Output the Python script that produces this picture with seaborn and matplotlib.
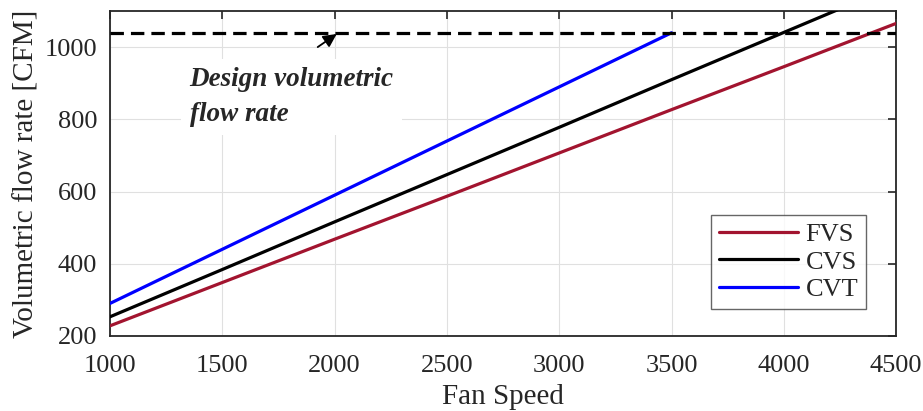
import numpy as np
import pandas as pd
import seaborn as sns
import matplotlib.pyplot as plt

speed = [1000, 1500, 2000, 2500, 3000, 3500, 4000, 4500]
fvs = [228, 348, 468, 587, 707, 827, 946, 1066]
cvs = [253, 384, 516, 647, 778, 910, 1041, 1172]
cvt_speed = [1000, 1500, 2000, 2500, 3000, 3500]
cvt = [290, 440, 590, 740, 890, 1040]
design_flow = 1040

df = pd.concat([
    pd.DataFrame({"speed": speed, "flow": fvs, "System": "FVS"}),
    pd.DataFrame({"speed": speed, "flow": cvs, "System": "CVS"}),
    pd.DataFrame({"speed": cvt_speed, "flow": cvt, "System": "CVT"}),
], ignore_index=True)

sns.set_style("white")
plt.rcParams['font.family'] = ['Liberation Serif', 'DejaVu Serif']

fig = plt.figure(figsize=(9.23, 4.11), dpi=100)
ax = fig.add_axes([0.119, 0.1825, 0.852, 0.7905])

palette = {"FVS": "#A2142F", "CVS": "#000000", "CVT": "#0000FF"}
sns.lineplot(data=df, x="speed", y="flow", hue="System", palette=palette,
             linewidth=2.3, ax=ax, legend=True, zorder=3)

ax.axhline(design_flow, color="black", linestyle=(0, (4.2, 2.2)), linewidth=2.3, zorder=4)

ax.annotate("", xy=(2020, 1041), xytext=(1915, 996),
            arrowprops=dict(arrowstyle="-|>", color="black", lw=1.3, mutation_scale=20),
            zorder=5)
ax.text(1355, 862, "Design volumetric\nflow rate", fontsize=19.5, fontweight="bold",
        fontstyle="italic", ha="left", va="center", linespacing=1.5,
        bbox=dict(facecolor="white", edgecolor="none", pad=6), zorder=4)

ax.set_xlim(1000, 4500)
ax.set_ylim(200, 1100)
ax.set_xticks([1000, 1500, 2000, 2500, 3000, 3500, 4000, 4500])
ax.set_yticks([200, 400, 600, 800, 1000])
ax.grid(True, color="#e0e0e0", linewidth=0.8)
ax.set_axisbelow(True)
ax.tick_params(direction="in", length=6, width=1.2, top=True, right=True,
               labelsize=19, labelcolor="#262626")
ax.tick_params(axis="x", pad=14)
ax.tick_params(axis="y", pad=9)
for s in ax.spines.values():
    s.set_color("#262626")
    s.set_linewidth(1.3)

ax.set_xlabel("Fan Speed", fontsize=21, color="#262626", labelpad=5)
ax.set_ylabel("Volumetric flow rate [CFM]", fontsize=21, color="#262626", labelpad=4)

leg = ax.legend(loc="lower right", fontsize=19, handlelength=3.0, frameon=True,
                fancybox=False, edgecolor="#404040", borderpad=0.3,
                labelspacing=0.15, handletextpad=0.3, borderaxespad=0,
                bbox_to_anchor=(0.962, 0.083))
leg.get_frame().set_linewidth(1.0)

fig.savefig("out.png", dpi=100)
